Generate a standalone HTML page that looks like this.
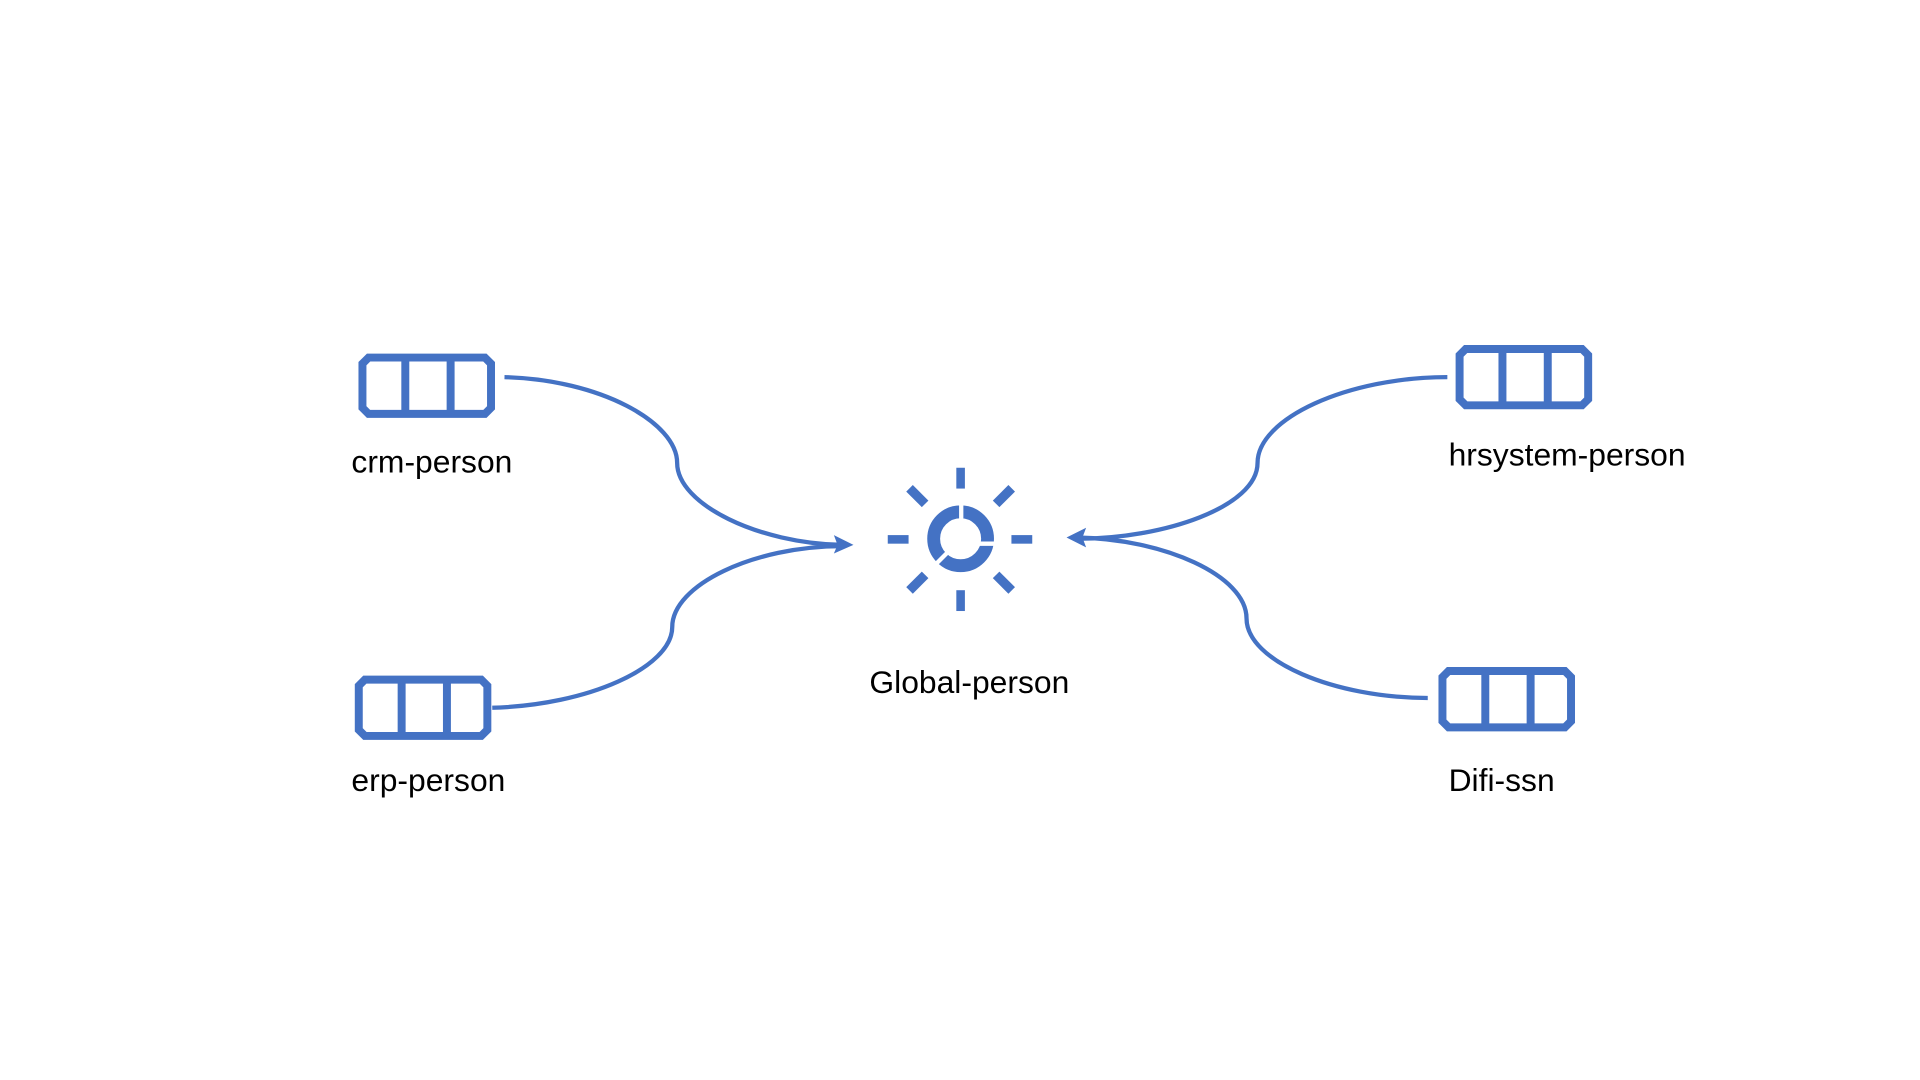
<!DOCTYPE html>
<html><head><meta charset="utf-8"><style>html,body{margin:0;padding:0;background:#fff}svg{display:block}</style></head>
<body>
<svg width="1920" height="1080" viewBox="0 0 1568 882" xmlns="http://www.w3.org/2000/svg">
<defs>
<g id="q" fill="none" stroke="#4472C4" stroke-width="6.5">
<path d="M5,0 H100 L105,5 V41 L100,46 H5 L0,41 V5 Z"/>
<line x1="35" y1="0" x2="35" y2="46"/><line x1="72" y1="0" x2="72" y2="46"/>
</g>
</defs>
<use href="#q" x="296" y="292"/>
<use href="#q" x="293" y="555"/>
<use href="#q" x="1192" y="285"/>
<use href="#q" x="1178" y="548"/>
<g fill="none" stroke="#4472C4" stroke-width="3.5">
<path d="M412,308 C490,310 553,345 553,378 C553,412 620,444 688,445"/>
<path d="M402,578 C480,576 549,545 549,512 C549,478 615,446 688,446"/>
<path d="M1182,308 C1100,308 1027,342 1027,378 C1027,414 950,440 880,440"/>
<path d="M1166,570 C1090,570 1018,540 1018,505 C1018,470 950,440 880,439"/>
</g>
<g fill="#4472C4">
<polygon points="697,445 681,437 684,445 681,452"/>
<polygon points="871,439 887,431 884,439 887,447"/>
<rect x="781" y="382" width="7" height="17"/>
<rect x="781" y="482" width="7" height="17"/>
<rect x="725" y="437" width="17" height="7"/>
<rect x="826" y="437" width="17" height="7"/>
<g transform="translate(784.5,440.5)">
<rect x="-3.8" y="-59" width="7.6" height="18" transform="rotate(-45)"/>
<rect x="-3.8" y="-59" width="7.6" height="18" transform="rotate(45)"/>
<rect x="-3.8" y="-59" width="7.6" height="18" transform="rotate(135)"/>
<rect x="-3.8" y="-59" width="7.6" height="18" transform="rotate(225)"/>
</g>
</g>
<circle cx="784.5" cy="440" r="22" fill="none" stroke="#4472C4" stroke-width="10.5"/>
<g stroke="#fff" stroke-width="3.5">
<line x1="785" y1="440" x2="785" y2="410"/>
<line x1="785" y1="444" x2="815" y2="444"/>
<line x1="784" y1="441" x2="760" y2="465"/>
</g>
<g font-family="'Liberation Sans',sans-serif" font-size="26" fill="#000">
<text x="287" y="386">crm-person</text>
<text x="287" y="646">erp-person</text>
<text x="1183" y="380">hrsystem-person</text>
<text x="1183" y="646">Difi-ssn</text>
<text x="710" y="566">Global-person</text>
</g>
</svg>
</body></html>
